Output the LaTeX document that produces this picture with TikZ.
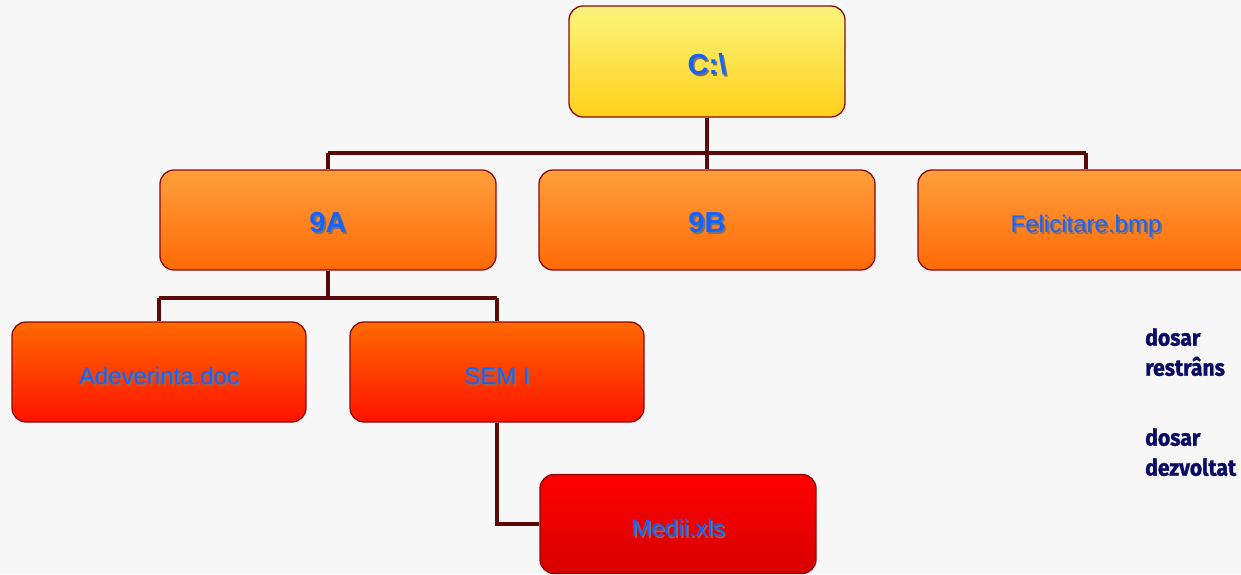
\documentclass[tikz,border=0pt]{standalone}
\usepackage{fontspec}
\setmainfont{Liberation Sans}
\newfontfamily\condfont[FakeStretch=0.92,FakeBold=1.3]{Fira Sans}
\usetikzlibrary{shadings}

\definecolor{linkcol}{HTML}{5A0808}
\definecolor{edgecol}{HTML}{8A0A0A}
\definecolor{labelblue}{HTML}{1463FF}
\definecolor{shadowcol}{HTML}{3A2418}
\definecolor{navytext}{HTML}{0B0B66}
\definecolor{yeltop}{HTML}{FBF57E}
\definecolor{yelbot}{HTML}{FFD01A}
\definecolor{ortop}{HTML}{FF9E3C}
\definecolor{orbot}{HTML}{FF6A06}
\definecolor{redtop}{HTML}{FF6A00}
\definecolor{redbot}{HTML}{FF1200}
\definecolor{deeptop}{HTML}{FF0000}
\definecolor{deepbot}{HTML}{D80000}

% text with a soft drop shadow, baseline set a little below the box centre
\newcommand\shtext[1]{\raisebox{-12.5pt}[0pt][0pt]{\makebox[0pt][l]{\hspace*{1.8pt}\raisebox{-2pt}{\color{shadowcol!65}#1}}#1}}

\tikzset{
  box/.style={draw=edgecol, line width=1.3pt, rounded corners=14pt,
    text=labelblue, font=\fontsize{24}{28}\selectfont, inner sep=0pt},
  rootbox/.style={box, minimum width=276pt, minimum height=111pt,
    top color=yeltop, bottom color=yelbot},
  lvlone/.style={box, minimum width=336pt, minimum height=100pt,
    top color=ortop, bottom color=orbot},
  lvltwo/.style={box, minimum width=294pt, minimum height=100pt,
    top color=redtop, bottom color=redbot},
  lvlthree/.style={box, minimum width=276pt, minimum height=99pt,
    top color=deeptop, bottom color=deepbot},
  bigbold/.style={font=\fontsize{29}{32}\selectfont\bfseries},
  link/.style={draw=linkcol, line width=4.5pt},
  note/.style={text=navytext, font=\condfont\bfseries\fontsize{23}{30}\selectfont,
    align=left, anchor=north west, inner sep=0pt}
}

\begin{document}
\begin{tikzpicture}[x=1pt,y=-1pt]
  \useasboundingbox (0,0) rectangle (1241,574);
  \fill[white!97!black] (0,0) rectangle (1241,574);

  % horizontal bus levels
  \coordinate (busA) at (0,153);
  \coordinate (busB) at (0,298);

  \node[rootbox, bigbold] (root) at (707,61.5) {\shtext{C:\textbackslash}};

  \node[lvlone, bigbold] (ninea) at (328,220) {\shtext{9A}};
  \node[lvlone, bigbold] (nineb) at (707,220) {\shtext{9B}};
  \node[lvlone] (felic) at (1086,220) {\shtext{Felicitare.bmp}};

  \node[lvltwo] (adev) at (159,372) {\shtext{Adeverinta.doc}};
  \node[lvltwo] (sem) at (497,372) {\shtext{SEM I}};

  \node[lvlthree] (medii) at (678,524) {\shtext{Medii.xls}};

  % links between the folders
  \draw[link] (root.south) -- (root.south |- busA);
  \draw[link] (ninea.north |- busA) -- (felic.north |- busA);
  \draw[link] (ninea.north |- busA) -- (ninea.north);
  \draw[link] (nineb.north |- busA) -- (nineb.north);
  \draw[link] (felic.north |- busA) -- (felic.north);
  \draw[link] (ninea.south) -- (ninea.south |- busB);
  \draw[link] (adev.north |- busB) -- (sem.north |- busB);
  \draw[link] (adev.north |- busB) -- (adev.north);
  \draw[link] (sem.north |- busB) -- (sem.north);
  \draw[link] (sem.south) |- (medii.west);

  % legend notes
  \node[note] (collapsed) at (1145,328) {dosar\\restrâns};
  \node[note] (expanded) at (1145,428) {dosar\\dezvoltat};
\end{tikzpicture}
\end{document}
